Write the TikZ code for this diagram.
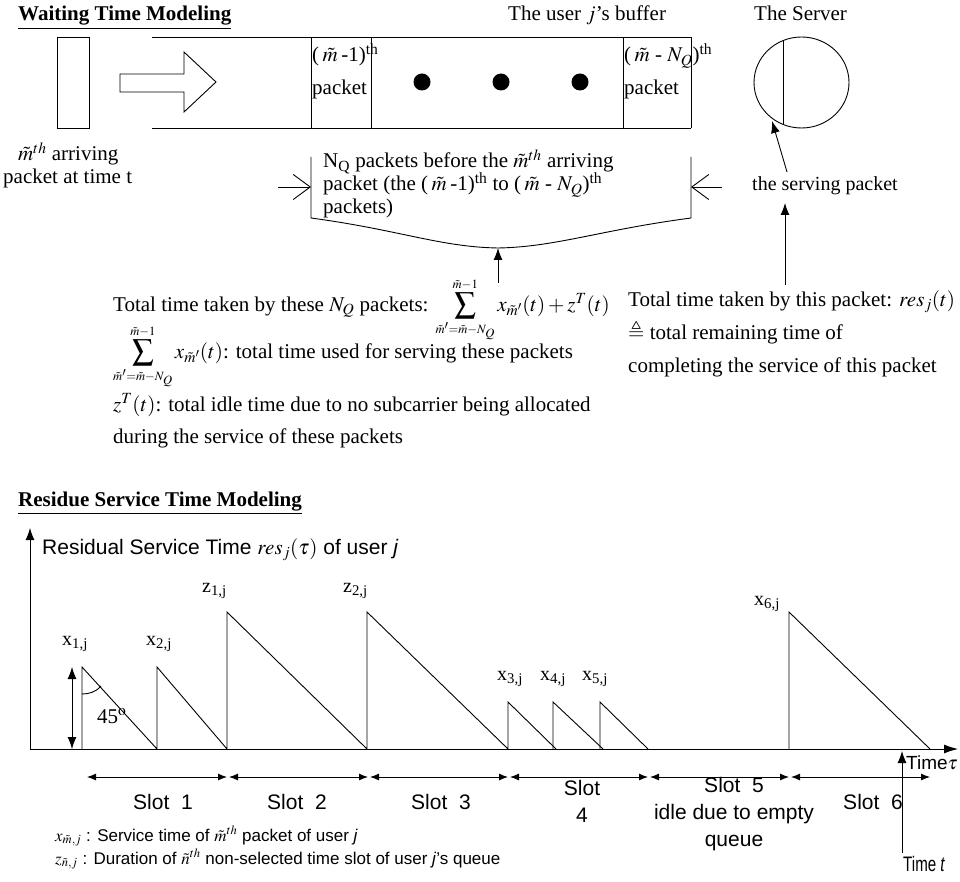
\documentclass[tikz,border=0pt]{standalone}
\usepackage{amsmath}
\usepackage{mathptmx}
\usepackage{amssymb}
\usepackage{fontspec}
\setmainfont{Liberation Serif}
\setsansfont{Liberation Sans}
\usetikzlibrary{arrows.meta,shapes.geometric}
\newcommand\bigsig{\mathop{\vcenter{\hbox{\scalebox{1.45}{$\textstyle\sum$}}}}}
\newcommand\mysum{\bigsig\limits_{\scriptscriptstyle\tilde{m}'=\tilde{m}-N_Q}^{\scriptscriptstyle\tilde{m}-1}}
\begin{document}
\begin{tikzpicture}[x=1pt,y=-1pt,
  T/.style={anchor=base west, inner sep=0pt, font=\fontsize{21}{25}\selectfont},
  S/.style={anchor=base west, inner sep=0pt, font=\sffamily\fontsize{21}{27}\selectfont},
  L/.style={anchor=base west, inner sep=0pt, font=\sffamily\fontsize{17}{20}\selectfont},
  lab/.style={anchor=base west, inner sep=0pt, font=\fontsize{20}{24}\selectfont},
  ln/.style={line width=0.9pt},
  fa/.style={ln,-{Latex[length=12pt,width=9pt]}},
  da/.style={ln,{Latex[length=9pt,width=7pt]}-{Latex[length=9pt,width=7pt]}},
  barb/.style={ln,-{Straight Barb[length=17pt,width=25pt]}}]
\useasboundingbox (0,0) rectangle (960,882);

% ---------- Waiting time modeling ----------
\node[T] (h1) at (18,21) {\textbf{\underline{Waiting Time Modeling}}};
\node[T] (bufT) at (508,21) {The user $j$’s buffer};
\node[T] (srvT) at (754,21) {The Server};

\node[draw, ln, minimum width=32, minimum height=91, inner sep=0pt] (newpkt) at (73,82.5) {};
\draw[ln] (120,74) -- (184,74) -- (184,52) -- (216,82) -- (184,112) -- (184,92) -- (120,92) -- cycle;

\draw[ln] (152,37) -- (691,37) (152,128) -- (691,128);
\foreach \x in {311,371,623,691} \draw[ln] (\x,37) -- (\x,128);
\node[T] (c1a) at (312,62) {(\,$\tilde{m}$\,-1)\textsuperscript{th}};
\node[T] (c1b) at (312,95) {packet};
\node[T] (c2a) at (624,62) {(\,$\tilde{m}$ - $N_Q$)\textsuperscript{th}};
\node[T] (c2b) at (624,95) {packet};
\foreach \x in {422,501,580} \fill (\x,82) circle[radius=8.5];

\node[draw, ln, ellipse, minimum width=95, minimum height=91, inner sep=0pt] (server) at (801.5,82.5) {};
\draw[ln] (783,40.6) -- (783,124.4);

\node[T] (arrT1) at (18,161) {$\tilde{m}^{th}$ arriving};
\node[T] (arrT2) at (3,184) {packet at time t};

% brace
\draw[ln] (311,157) -- (311,218) .. controls (400,230) and (440,247) .. (498,248)
  .. controls (556,247) and (600,230) .. (691,218) -- (691,157);
\coordinate (braceMid) at (498,248);
\coordinate (braceL) at (311,187);
\coordinate (braceR) at (691,187);
\coordinate (inL) at (278,187);
\coordinate (inR) at (722,187);
\draw[barb] (inL) -- (braceL);
\draw[barb] (inR) -- (braceR);
\node[T] (b1) at (323,168) {N\textsubscript{Q} packets before the $\tilde{m}^{th}$ arriving};
\node[T] (b2) at (323,191) {packet (the (\,$\tilde{m}$\,-1)\textsuperscript{th} to (\,$\tilde{m}$ - $N_Q$)\textsuperscript{th}};
\node[T] (b3) at (323,214) {packets)};

\node[T] (tot1) at (113,311) {Total time taken by these $N_Q$ packets: $\mysum x_{\tilde{m}'}(t)+z^T(t)$};
\coordinate (sumTail) at (498,283);
\draw[fa] (sumTail) -- (braceMid);

\node[T] (sum2) at (113,358) {$\mysum x_{\tilde{m}'}(t)$: total time used for serving these packets};
\node[T] (zt) at (113,411) {$z^T(t)$: total idle time due to no subcarrier being allocated};
\node[T] (dur) at (113,443) {during the service of these packets};

\node[T, font=\fontsize{20}{24}\selectfont] (serving) at (752,191) {the serving packet};
\coordinate (srvTail) at (787,172);
\coordinate (srvTip) at (772,121);
\draw[fa] (srvTail) -- (srvTip);
\node[T] (r1) at (628,306) {Total time taken by this packet: $res_j(t)$};
\node[T] (r2) at (628,339) {$\triangleq$ total remaining time of};
\node[T] (r3) at (628,372) {completing the service of this packet};
\coordinate (rTail) at (785,285);
\coordinate (rTip) at (785,203);
\draw[fa] (rTail) -- (rTip);

% ---------- Residue service time modeling ----------
\node[T] (h2) at (18,506) {\textbf{\underline{Residue Service Time Modeling}}};
\coordinate (O) at (30,749);
\coordinate (yEnd) at (30,528);
\coordinate (xEnd) at (958,749);
\draw[fa] (O) -- (yEnd);
\draw[ln,-{Latex[length=14pt,width=9pt]}] (O) -- (xEnd);
\node[S] (title) at (42,554) {Residual Service Time $res_j(\tau)$ of user \textit{j}};

\draw[ln] (82,749) -- (82,667) -- (157,749) -- (157,667) -- (227,749) -- (227,612) -- (367,749)
  -- (367,612) -- (508,749) -- (508,702) -- (556,749);
\draw[ln] (553,749) -- (553,702) -- (603,749);
\draw[ln] (600,749) -- (600,702) -- (648,749);
\draw[ln] (789,749) -- (789,612) -- (930,749);

\coordinate (x1top) at (72,667);
\coordinate (x1bot) at (72,749);
\draw[ln,{Latex[length=12pt,width=9pt]}-{Latex[length=12pt,width=9pt]}] (x1top) -- (x1bot);
\draw[ln] (82,694) .. controls (89,694) and (96,692) .. (101,686);
\node[T] (ang) at (97,723) {45$^{\mathrm{o}}$};

\node[lab] (lx1) at (62,645) {x\textsubscript{1,j}};
\node[lab] (lx2) at (146,645) {x\textsubscript{2,j}};
\node[lab] (lz1) at (202,592) {z\textsubscript{1,j}};
\node[lab] (lz2) at (343,592) {z\textsubscript{2,j}};
\node[lab] (lx3) at (497,680) {x\textsubscript{3,j}};
\node[lab] (lx4) at (540,680) {x\textsubscript{4,j}};
\node[lab] (lx5) at (582,680) {x\textsubscript{5,j}};
\node[lab] (lx6) at (754,605) {x\textsubscript{6,j}};

% slots
\foreach \a/\b/\n in {87/227/1,229/368/2,370/508/3,510/648/4,650/789/5,791/930/6}{
  \coordinate (sl\n) at (\a,777);
  \coordinate (sr\n) at (\b,777);
  \draw[da] (sl\n) -- (sr\n);
}
\node[S, anchor=center] (s1) at (163,802) {Slot\ \ 1};
\node[S, anchor=center] (s2) at (297,802) {Slot\ \ 2};
\node[S, anchor=center] (s3) at (441,802) {Slot\ \ 3};
\node[S, anchor=center, align=center] (s4) at (582,801) {Slot\\4};
\node[S, anchor=center, align=center] (s5) at (734,814) {Slot\ \ 5\\idle due to empty\\queue};
\node[S, anchor=center] (s6) at (873,802) {Slot\ \ 6};

\coordinate (tBot) at (902,853);
\coordinate (tTop) at (902,751);
\draw[fa] (tBot) -- (tTop);
\node[S] (timet) at (903,871) {\scalebox{0.72}[1]{Time \textit{t}}};
\node[S, font=\sffamily\fontsize{19}{23}\selectfont] (timetau) at (906,769) {Time$\tau$};

\node[L] (leg1) at (55,841) {$x_{\tilde{m},j}$ : Service time of $\tilde{m}^{th}$ packet of user \textit{j}};
\node[L] (leg2) at (55,864) {$z_{\tilde{n},j}$ : Duration of $\tilde{n}^{th}$ non-selected time slot of user \textit{j}’s queue};
\end{tikzpicture}
\end{document}
